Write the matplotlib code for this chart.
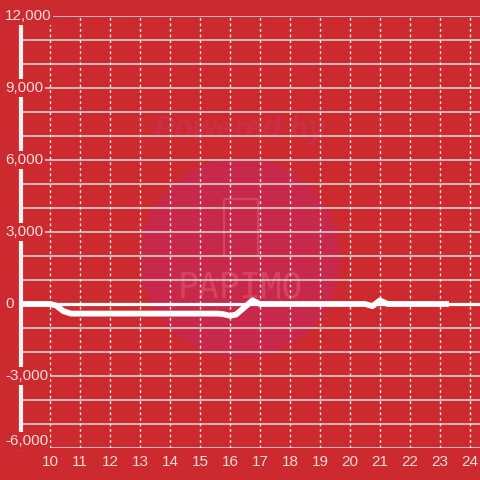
import matplotlib
matplotlib.use("Agg")
import matplotlib.pyplot as plt
from matplotlib.patches import Circle, FancyBboxPatch

# ---- data ----
hours = [9.03, 10.0, 10.2, 10.45, 10.7, 15.6, 15.8, 16.0, 16.2, 16.5, 16.75, 17.0,
         20.5, 20.75, 21.0, 21.25, 23.3]
values = [0, 0, -60, -300, -400, -400, -430, -490, -440, -120, 150, 0,
          0, -90, 150, 0, 0]
x_ticks = list(range(10, 25))
y_ticks = [12000, 9000, 6000, 3000, 0, -3000, -6000]
y_tick_labels = ["12,000", "9,000", "6,000", "3,000", "0", "-3,000", "-6,000"]

BG = "#CC2A2E"
TXT = "#F3DCDC"
W = H = 480

plt.rcParams['font.family'] = ['Liberation Sans', 'DejaVu Sans']
fig = plt.figure(figsize=(4.8, 4.8), dpi=100, facecolor=BG)

# watermark
fig.patches.append(Circle((240 / W, 1 - 258 / H), 100 / W, transform=fig.transFigure,
                          facecolor="#C8284A", edgecolor="none", zorder=0))
fig.text(240 / W, 1 - 130 / H, "Powered by", ha="center", va="center", fontsize=22,
         fontweight="bold", style="italic", color="#CB2F45", zorder=0.5)
fig.patches.append(FancyBboxPatch((225 / W, 1 - 255 / H), 32 / W, 55 / H,
                                  boxstyle="round,pad=0.002", transform=fig.transFigure,
                                  facecolor="none", edgecolor="#D4445F", lw=1.5, zorder=0.5))
fig.text(240 / W, 1 - 288 / H, "PAPIMO", ha="center", va="center", fontsize=25,
         color="#D4445F", zorder=0.5, family="DejaVu Sans Mono")

ax = fig.add_axes([21 / W, 32 / H, 459 / W, 432 / H])
ax.patch.set_alpha(0)
ax.set_zorder(1)
xmin, xmax = 10 - 29 / 30, 24 + 10 / 30
ax.set_xlim(xmin, xmax)
ax.set_ylim(-6000, 12000)

for v in range(-6000, 12001, 1000):
    ax.axhline(v, color="#CFCFCF", lw=1.2, zorder=1)
for xv in x_ticks:
    ax.axvline(xv, color="#E8E8E8", lw=1, ls=(0, (2, 2)), zorder=1)

ax.axhline(0, color="white", lw=2.3, zorder=2)
ax.plot(hours, values, color="white", lw=4.2, solid_capstyle="butt",
        solid_joinstyle="round", zorder=3)
ax.axvline(xmin, color="#F2F2F2", lw=3, zorder=4, clip_on=False)

for s in ax.spines.values():
    s.set_visible(False)
ax.set_yticks([])
ax.set_xticks(x_ticks)
ax.set_xticklabels([str(t) for t in x_ticks])
ax.tick_params(axis="x", length=0, pad=5, labelsize=11, labelcolor=TXT)

for v, lab in zip(y_ticks, y_tick_labels):
    py = 304 - v / 1000 * 24
    if v == -6000:
        py = 441
    fig.text(5 / W, 1 - py / H, lab, ha="left", va="center", fontsize=11, color=TXT,
             zorder=5, bbox=dict(facecolor=BG, edgecolor="none", pad=1.2))

fig.savefig("out.png", dpi=100, facecolor=BG)
